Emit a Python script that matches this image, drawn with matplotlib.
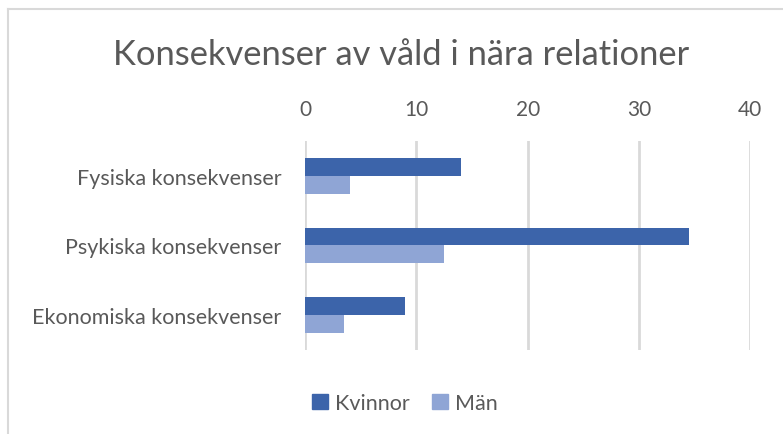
import numpy as np
import matplotlib
matplotlib.use("Agg")
import matplotlib.pyplot as plt
from matplotlib.lines import Line2D
from matplotlib.patches import Patch

plt.rcParams['font.family'] = ['Lato', 'DejaVu Sans']

categories = ['Fysiska konsekvenser', 'Psykiska konsekvenser', 'Ekonomiska konsekvenser']
kvinnor = [14, 34.5, 9]
man = [4, 12.5, 3.5]
series_names = ['Kvinnor', 'Män']
colors = ['#3C64AA', '#8FA5D5']
text_col = '#595959'

W, H = 783, 435
fig = plt.figure(figsize=(W / 100, H / 100), dpi=100)
ax = fig.add_axes([305 / W, 1 - 351 / H, (750.3 - 305) / W, (351 - 142) / H])

y = np.arange(len(categories))
h = 0.258
ax.barh(y - h / 2, kvinnor, height=h, color=colors[0], label=series_names[0], zorder=3)
ax.barh(y + h / 2, man, height=h, color=colors[1], label=series_names[1], zorder=3)

ax.set_xlim(0, 40)
ax.set_ylim(2.5, -0.5)
ax.set_xticks([0, 10, 20, 30, 40])
ax.xaxis.tick_top()
ax.tick_params(axis='x', length=0, pad=16, labelsize=15, colors=text_col)
ax.set_yticks(y)
ax.set_yticklabels(categories)
ax.tick_params(axis='y', length=0, pad=17, labelsize=15.5, colors=text_col)
ax.grid(axis='x', color='#D9D9D9', linewidth=2.0, zorder=0)
for s in ax.spines.values():
    s.set_visible(False)

fig.text(401 / W, 1 - 55 / H, 'Konsekvenser av våld i nära relationer', ha='center', va='center',
         fontsize=24.8, color=text_col)

handles = [Patch(color=c) for c in colors]
fig.legend(handles, series_names, loc='center', bbox_to_anchor=(405 / W, 1 - 404 / H), ncol=2,
           frameon=False, fontsize=15.5, labelcolor=text_col, handlelength=0.75, handleheight=0.75,
           handletextpad=0.35, columnspacing=1.0)

# chart border (only left and top visible in the crop)
fig.add_artist(Line2D([8 / W, 8 / W], [0, 1 - 10 / H], color='#D9D9D9', linewidth=1.5,
                      transform=fig.transFigure))
fig.add_artist(Line2D([8 / W, 1], [1 - 10 / H, 1 - 10 / H], color='#D9D9D9', linewidth=1.5,
                      transform=fig.transFigure))

fig.savefig('out.png', dpi=100)
